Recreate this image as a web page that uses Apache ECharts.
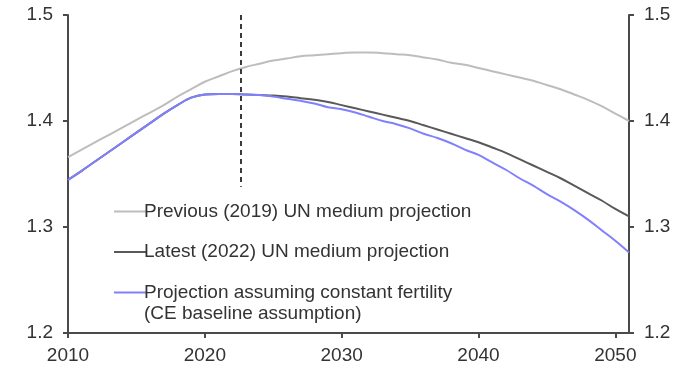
<!DOCTYPE html>
<html>
<head>
<meta charset="utf-8">
<script src="https://cdn.jsdelivr.net/npm/echarts@6/dist/echarts.min.js"></script>
<style>
html,body{margin:0;padding:0;background:#fff;}
#c{width:700px;height:378px;}
</style>
</head>
<body>
<div id="c"></div>
<script>
var years = [];
for (var y = 2010; y <= 2051; y++) years.push(y);

var previous2019 = [1.366,1.373,1.380,1.387,1.394,1.401,1.408,1.415,1.423,1.430,
  1.437,1.442,1.447,1.451,1.454,1.457,1.459,1.461,1.462,1.463,
  1.464,1.4647,1.4647,1.464,1.463,1.462,1.460,1.458,1.455,1.453,
  1.450,1.447,1.444,1.441,1.438,1.434,1.430,1.425,1.420,1.414,
  1.407,1.400];
var latest2022 = [1.3445,1.353,1.362,1.371,1.380,1.389,1.398,1.407,1.415,1.422,
  1.425,1.4255,1.4255,1.425,1.4245,1.424,1.423,1.4215,1.420,1.418,
  1.415,1.412,1.409,1.406,1.403,1.400,1.396,1.392,1.388,1.384,
  1.380,1.375,1.370,1.364,1.358,1.352,1.346,1.339,1.332,1.325,
  1.317,1.310];
var constantFertility = [1.3445,1.353,1.362,1.371,1.380,1.389,1.398,1.407,1.415,1.422,
  1.425,1.4255,1.4255,1.425,1.4245,1.423,1.421,1.419,1.4165,1.413,
  1.411,1.408,1.404,1.400,1.397,1.393,1.388,1.384,1.379,1.373,
  1.368,1.361,1.354,1.346,1.339,1.331,1.324,1.316,1.307,1.297,
  1.287,1.276];

var seriesNames = ['Previous (2019) UN medium projection',
                   'Latest (2022) UN medium projection',
                   'Projection assuming constant fertility'];
var legendSecondLine = '(CE baseline assumption)';
var xTickLabels = [2010, 2020, 2030, 2040, 2050];
var yTickLabels = [1.2, 1.3, 1.4, 1.5];
var markerYear = 2022.6;
var markerRange = [1.5, 1.338];

function pairs(vals) { return years.map(function (yr, i) { return [yr, vals[i]]; }); }

var font = 'Liberation Sans, Arial, sans-serif';
var axisColor = '#4a4a4a';
var textColor = '#333333';
var fs = 19;

var yAxisBase = {
  type: 'value', min: 1.2, max: 1.5, interval: 0.1,
  axisLine: { show: true, lineStyle: { color: axisColor, width: 2 } },
  axisTick: { show: true, length: 5, lineStyle: { color: axisColor, width: 2 } },
  splitLine: { show: false },
  axisLabel: { color: textColor, fontSize: fs, fontFamily: font, margin: 15,
    formatter: function (v) { return v.toFixed(1); } }
};

var chart = echarts.init(document.getElementById('c'), null, { renderer: 'canvas' });
chart.setOption({
  animation: false,
  backgroundColor: '#ffffff',
  grid: { left: 68, right: 71, top: 15, height: 318 },
  xAxis: {
    type: 'value', min: 2010, max: 2051,
    axisLine: { show: true, onZero: false, lineStyle: { color: axisColor, width: 2 } },
    axisTick: { show: true, length: 5, customValues: xTickLabels, lineStyle: { color: axisColor, width: 2 } },
    axisLabel: { customValues: xTickLabels, color: textColor, fontSize: fs, fontFamily: font, margin: 13,
      formatter: function (v) { return String(v); } },
    splitLine: { show: false }
  },
  yAxis: [
    Object.assign({}, yAxisBase, { position: 'left' }),
    Object.assign({}, yAxisBase, { position: 'right' })
  ],
  legend: {
    orient: 'vertical', left: 109, top: 197,
    itemWidth: 32, itemHeight: 2, itemGap: 21.5,
    icon: 'rect',
    textStyle: { color: textColor, fontSize: fs, fontFamily: font, padding: [0, 0, 0, -7] },
    data: seriesNames
  },
  graphic: [{
    type: 'text', left: 144, top: 304,
    style: { text: legendSecondLine, fill: textColor, font: fs + 'px ' + font }
  }],
  series: [
    { name: seriesNames[0], type: 'line', data: pairs(previous2019), showSymbol: false, smooth: 0.4,
      lineStyle: { color: '#bdbdbd', width: 2 }, itemStyle: { color: '#bdbdbd' }, z: 2 },
    { name: seriesNames[1], type: 'line', data: pairs(latest2022), showSymbol: false, smooth: 0.4,
      lineStyle: { color: '#595959', width: 2 }, itemStyle: { color: '#595959' }, z: 3,
      markLine: {
        silent: true, symbol: 'none', label: { show: false },
        lineStyle: { color: '#3a3a3a', type: [5, 4], width: 2 },
        data: [[{ coord: [markerYear, markerRange[0]] }, { coord: [markerYear, markerRange[1]] }]]
      } },
    { name: seriesNames[2], type: 'line', data: pairs(constantFertility), showSymbol: false, smooth: 0.4,
      lineStyle: { color: '#8080ff', width: 2 }, itemStyle: { color: '#8080ff' }, z: 4 }
  ]
});
</script>
</body>
</html>
